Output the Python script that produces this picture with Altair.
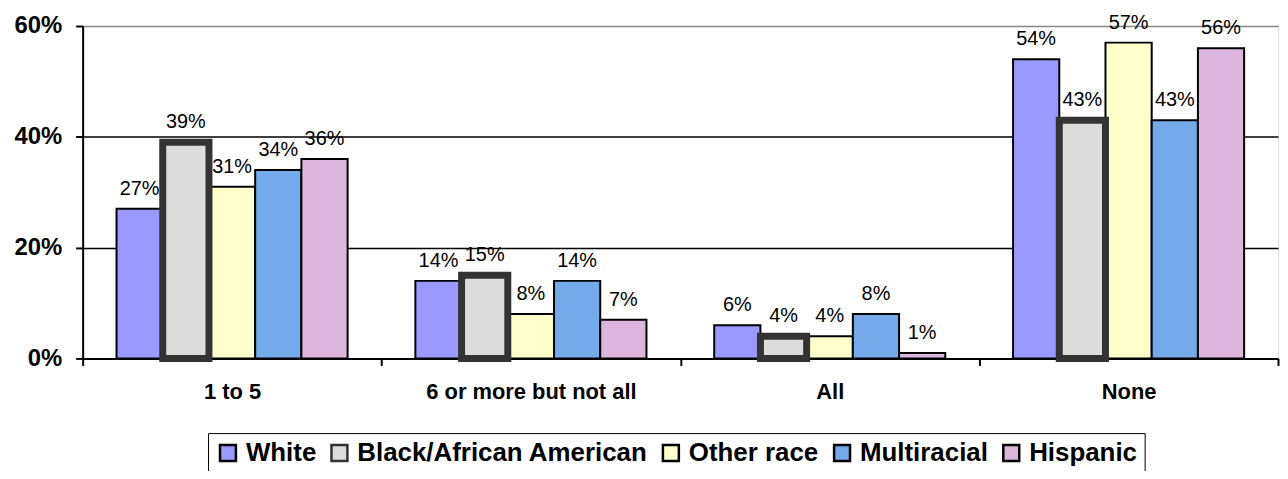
import altair as alt
import pandas as pd

categories = ["1 to 5", "6 or more but not all", "All", "None"]
races = ["White", "Black/African American", "Other race", "Multiracial", "Hispanic"]
white = [0.27, 0.14, 0.06, 0.54]
black_afam = [0.39, 0.15, 0.04, 0.43]
other_race = [0.31, 0.08, 0.04, 0.57]
multiracial = [0.34, 0.14, 0.08, 0.43]
hispanic = [0.36, 0.07, 0.01, 0.56]
y_ticks = [0, 0.2, 0.4, 0.6]

fills = ["#9999FF", "#DCDCDC", "#FFFFCC", "#74A9EA", "#DDB6DD"]
strokes = ["#000000", "#333333", "#000000", "#000000", "#000000"]
THICK = "Black/African American"

series = [white, black_afam, other_race, multiracial, hispanic]
rows = []
for race, vals in zip(races, series):
    for cat, v in zip(categories, vals):
        rows.append({"category": cat, "race": race, "value": v})
df = pd.DataFrame(rows)

FONT = "Liberation Sans"

x_enc = alt.X(
    "category:N", sort=categories, title=None,
    scale=alt.Scale(domain=categories, paddingInner=0, paddingOuter=0),
    axis=alt.Axis(labelAngle=0, labelFont=FONT, labelFontSize=22, labelFontWeight="bold",
                  labelColor="black", tickBand="extent", tickSize=7, tickColor="black",
                  tickWidth=2, domainColor="black", domainWidth=2, labelPadding=16,
                  labelLimit=500),
)
xoff = alt.XOffset("race:N", sort=races,
                   scale=alt.Scale(domain=races, paddingInner=0, paddingOuter=0.733))
y_scale = alt.Scale(domain=[0, 0.6], nice=False)

y_left = alt.Y("value:Q", scale=y_scale, title=None,
               axis=alt.Axis(values=y_ticks, format=".0%", labelFont=FONT, labelFontSize=24,
                             labelFontWeight="bold", labelColor="black", tickSize=7,
                             tickColor="black", tickWidth=2, labelPadding=14,
                             domainColor="black", domainWidth=2, grid=True, gridWidth=1.5,
                             gridColor={"condition": {"test": "datum.value >= 0.59",
                                                      "value": "#888888"},
                                        "value": "black"}))

fill_enc = alt.Fill("race:N", sort=races, scale=alt.Scale(domain=races, range=fills),
                    legend=alt.Legend(title=None, orient="none", legendX=126, legendY=409,
                                      direction="horizontal", columns=5, symbolType="square",
                                      symbolSize=256, symbolStrokeWidth=2.5,
                                      labelFont=FONT, labelFontSize=26,
                                      labelFontWeight="bold", labelColor="black", labelOffset=5,
                                      columnPadding=10, padding=7, strokeColor="black",
                                      labelLimit=500))
stroke_enc = alt.Stroke("race:N", sort=races, scale=alt.Scale(domain=races, range=strokes))

base = alt.Chart(df)

bars_thin = base.transform_filter(alt.datum.race != THICK).mark_bar(strokeWidth=2).encode(
    x=x_enc, xOffset=xoff, y=y_left, fill=fill_enc, stroke=stroke_enc,
)
bars_thick = base.transform_filter(alt.datum.race == THICK).mark_bar(strokeWidth=7).encode(
    x=x_enc, xOffset=xoff, y=y_left, fill=fill_enc, stroke=stroke_enc,
)

labels = base.mark_text(baseline="alphabetic", dy=-14, font=FONT, fontSize=20,
                        color="black").encode(
    x=x_enc,
    xOffset=xoff,
    y=alt.Y("value:Q", scale=y_scale),
    text=alt.Text("value:Q", format=".0%"),
)

chart = alt.layer(bars_thin, bars_thick, labels).properties(
    width=1201, height=334,
    padding={"left": 75, "top": 17, "right": 2, "bottom": 112},
    autosize="none",
).configure_view(stroke="#888888", strokeWidth=2).configure(font=FONT, background="white")

chart.save("out.html", embed_options={"renderer": "svg", "actions": False})
